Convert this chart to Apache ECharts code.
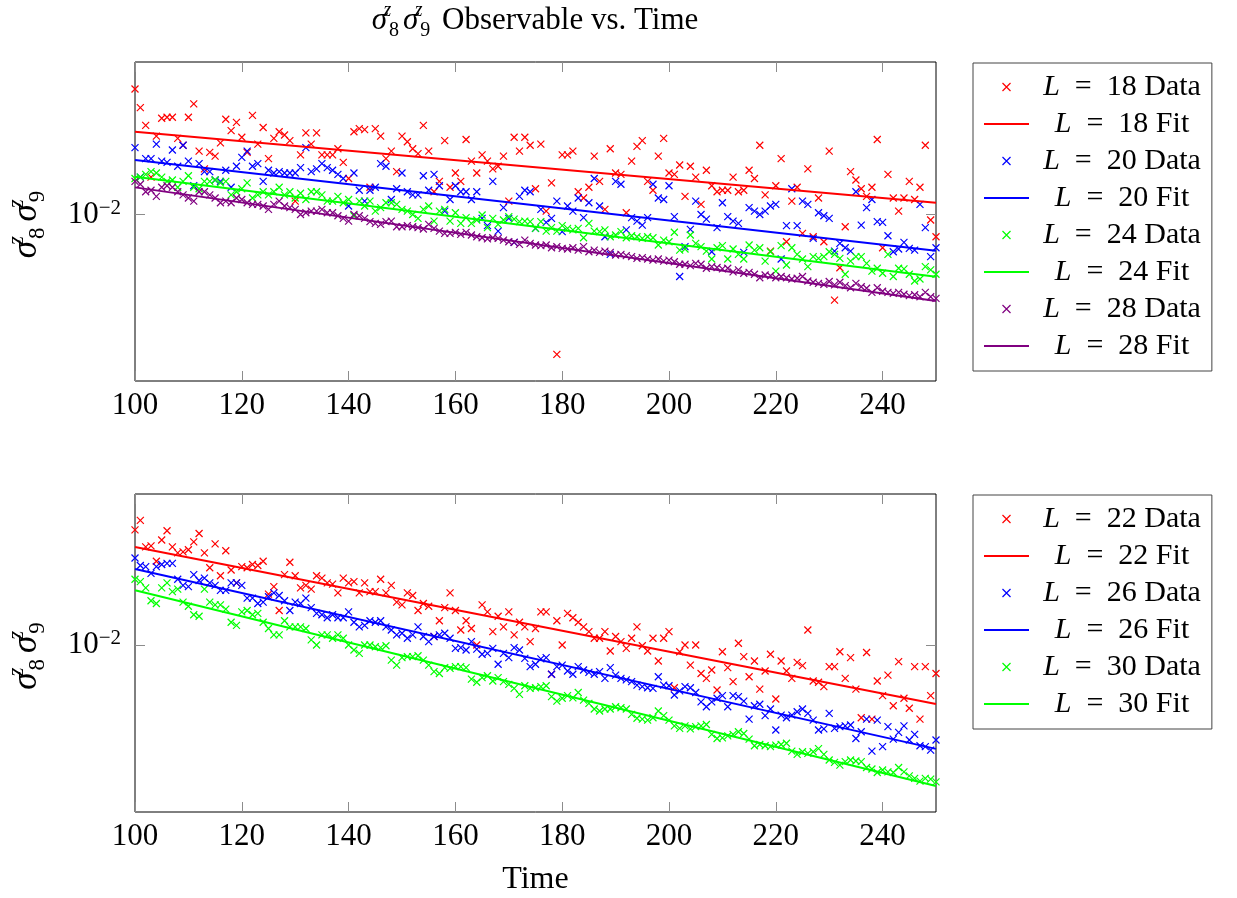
<!DOCTYPE html>
<html>
<head>
<meta charset="utf-8">
<script src="https://cdn.jsdelivr.net/npm/echarts@6/dist/echarts.min.js"></script>
<style>
html,body{margin:0;padding:0;background:#fff;}
#chart{width:1237px;height:898px;}
</style>
</head>
<body>
<div id="chart"></div>
<script>
// ---------------- data ----------------
const timeStart = 100;           // first time step
const timeCount = 151;           // time steps 100 .. 250
const xTicks = [100, 120, 140, 160, 180, 200, 220, 240];
const yTicks = [0.01];
const fitTimes = [100, 250];

// top panel
const l18Data = [
0.0206,0.0185,0.0167,0.0124,0.0157,0.0174,0.0175,0.0175,0.0155,0.0149,
0.0175,0.0189,0.0144,0.0130,0.0143,0.0140,0.0151,0.0173,0.0162,0.0170,
0.0156,0.0143,0.0177,0.0150,0.0165,0.0138,0.0155,0.0161,0.0158,0.0153,
0.0108,0.0141,0.0160,0.0150,0.0160,0.0141,0.0141,0.0141,0.0146,0.0135,
0.0123,0.0161,0.0164,0.0163,0.0117,0.0164,0.0157,0.0138,0.0144,0.0128,
0.0157,0.0152,0.0146,0.0142,0.0167,0.0144,0.0114,0.0121,0.0153,0.0117,
0.0127,0.0121,0.0154,0.0136,0.0127,0.0141,0.0136,0.0130,0.0132,0.0140,
0.0108,0.0156,0.0144,0.0156,0.0149,0.0116,0.0150,0.0102,0.0120,0.00447,
0.0141,0.0141,0.0144,0.0114,0.0110,0.0117,0.0140,0.0121,0.0103,0.0146,
0.0127,0.0126,0.0101,0.0136,0.0148,0.0153,0.0121,0.0115,0.0140,0.0155,
0.0127,0.0126,0.0133,0.0111,0.0132,0.0124,0.0106,0.0129,0.0118,0.0114,
0.0115,0.0115,0.0124,0.0114,0.0115,0.0129,0.0123,0.0149,0.0112,0.00810,
0.0118,0.0138,0.00855,0.0108,0.0117,0.00897,0.0130,0.00880,0.0110,0.00855,
0.0144,0.00611,0.00736,0.00932,0.0128,0.0122,0.0116,0.0111,0.0117,0.0154,
0.00826,0.0126,0.0110,0.0102,0.0110,0.0121,0.0109,0.0117,0.0149,0.00969,
0.00880];
const l18Fit = [0.01611, 0.01070];

const l20Data = [
0.0147,0.0124,0.0138,0.0138,0.0150,0.0136,0.0135,0.0145,0.0132,0.0149,
0.0136,0.0118,0.0134,0.0128,0.0128,0.0122,0.0121,0.0129,0.0117,0.0132,
0.0139,0.0144,0.0132,0.0134,0.0121,0.0129,0.0127,0.0128,0.0127,0.0127,
0.0127,0.0131,0.0147,0.0128,0.0130,0.0134,0.0131,0.0129,0.0126,0.0123,
0.0105,0.0127,0.0115,0.0108,0.0115,0.0117,0.0134,0.0132,0.0109,0.0116,
0.0127,0.0114,0.0112,0.0112,0.0125,0.0115,0.0126,0.0118,0.0102,0.0109,
0.0118,0.0114,0.0114,0.0109,0.0114,0.00978,0.00938,0.0121,0.00909,0.0104,
0.00978,0.00852,0.0111,0.0115,0.0114,0.00923,0.0103,0.00956,0.00978,0.0108,
0.00906,0.0105,0.0102,0.0110,0.00982,0.0107,0.0123,0.0105,0.00880,0.00795,
0.0121,0.0119,0.00915,0.00982,0.00963,0.00941,0.00982,0.0119,0.0110,0.0109,
0.0118,0.00988,0.00700,0.00831,0.00918,0.0108,0.0100,0.00974,0.00807,0.00927,
0.0107,0.00988,0.00963,0.00950,0.00804,0.0104,0.0102,0.0100,0.0102,0.0105,
0.0106,0.00774,0.00938,0.0116,0.00938,0.0108,0.0106,0.00872,0.0101,0.00993,
0.00978,0.00810,0.00847,0.00826,0.00810,0.0114,0.00941,0.0104,0.0109,0.00960,
0.00956,0.00885,0.00807,0.00820,0.00852,0.00823,0.00815,0.0106,0.00927,0.00785,
0.00826];
const l20Fit = [0.01368, 0.00812];

const l24Data = [
0.0123,0.0124,0.0126,0.0128,0.0127,0.0124,0.0121,0.0122,0.0117,0.0121,
0.0125,0.0117,0.0116,0.0121,0.0121,0.0122,0.0120,0.0121,0.0112,0.0114,
0.0116,0.0120,0.0110,0.0112,0.0114,0.0112,0.0114,0.0117,0.0112,0.0114,
0.0110,0.0113,0.0109,0.0114,0.0114,0.0112,0.0108,0.0108,0.0111,0.0107,
0.0109,0.00993,0.0108,0.0105,0.0108,0.0102,0.0104,0.0107,0.0107,0.0106,
0.0103,0.0102,0.0100,0.00978,0.0103,0.0105,0.00963,0.0102,0.0103,0.00963,
0.0101,0.00950,0.00982,0.00950,0.00969,0.00997,0.00927,0.00978,0.00945,0.00969,
0.00988,0.00974,0.00960,0.00963,0.00960,0.00923,0.00960,0.00909,0.00927,0.00909,
0.00938,0.00923,0.00915,0.00923,0.00875,0.00950,0.00909,0.00906,0.00915,0.00880,
0.00889,0.00906,0.00875,0.00885,0.00880,0.00872,0.00880,0.00875,0.00839,0.00863,
0.00855,0.00903,0.00815,0.00820,0.00889,0.00847,0.00831,0.00810,0.00774,0.00826,
0.00836,0.00774,0.00820,0.00795,0.00774,0.00839,0.00815,0.00826,0.00765,0.00807,
0.00722,0.00836,0.00748,0.00826,0.00795,0.00774,0.00741,0.00785,0.00777,0.00785,
0.00807,0.00795,0.00777,0.00709,0.00765,0.00785,0.00785,0.00755,0.00722,0.00734,
0.00713,0.00795,0.00700,0.00734,0.00731,0.00709,0.00682,0.00690,0.00741,0.00727,
0.00709];
const l24Fit = [0.01243, 0.00699];

const l28Data = [
0.0121,0.0119,0.0114,0.0115,0.0111,0.0117,0.0118,0.0117,0.0114,0.0112,
0.0110,0.0108,0.0114,0.0114,0.0112,0.0110,0.0107,0.0108,0.0107,0.0110,
0.0109,0.0107,0.0106,0.0106,0.0105,0.0103,0.0106,0.0108,0.0105,0.0104,
0.0103,0.0100,0.0101,0.0102,0.0102,0.0103,0.0101,0.0101,0.00993,0.00978,
0.00963,0.0100,0.00993,0.00978,0.00960,0.00950,0.00945,0.00960,0.00963,0.00932,
0.00932,0.00938,0.00932,0.00927,0.00920,0.00945,0.00923,0.00909,0.00897,0.00897,
0.00902,0.00892,0.00902,0.00889,0.00880,0.00875,0.00869,0.00875,0.00872,0.00863,
0.00855,0.00852,0.00842,0.00863,0.00847,0.00839,0.00836,0.00839,0.00826,0.00831,
0.00823,0.00820,0.00826,0.00815,0.00831,0.00807,0.00815,0.00804,0.00810,0.00804,
0.00792,0.00795,0.00789,0.00785,0.00777,0.00780,0.00774,0.00769,0.00774,0.00765,
0.00769,0.00762,0.00751,0.00751,0.00745,0.00755,0.00751,0.00734,0.00741,0.00737,
0.00731,0.00734,0.00719,0.00727,0.00713,0.00717,0.00709,0.00695,0.00706,0.00703,
0.00695,0.00700,0.00695,0.00690,0.00693,0.00700,0.00682,0.00677,0.00673,0.00669,
0.00680,0.00667,0.00677,0.00664,0.00656,0.00673,0.00660,0.00654,0.00639,0.00656,
0.00643,0.00639,0.00635,0.00639,0.00632,0.00627,0.00630,0.00623,0.00639,0.00623,
0.00617];
const l28Fit = [0.01169, 0.00608];

// bottom panel
const l22Data = [
0.0194,0.0205,0.0176,0.0177,0.0162,0.0183,0.0193,0.0176,0.0170,0.0171,
0.0173,0.0181,0.0190,0.0170,0.0156,0.0179,0.0149,0.0172,0.0154,0.0143,
0.0157,0.0156,0.0159,0.0158,0.0162,0.0134,0.0140,0.0122,0.0150,0.0161,
0.0149,0.0139,0.0141,0.0138,0.0149,0.0147,0.0143,0.0142,0.0135,0.0147,
0.0143,0.0144,0.0135,0.0143,0.0136,0.0136,0.0146,0.0135,0.0141,0.0128,
0.0126,0.0135,0.0133,0.0122,0.0127,0.0125,0.0105,0.0115,0.0124,0.0135,
0.0122,0.0109,0.0115,0.0110,0.0100,0.0126,0.0121,0.0108,0.0118,0.0111,
0.0121,0.0106,0.0114,0.0111,0.0102,0.0110,0.0121,0.0121,0.00845,0.0115,
0.0100,0.0120,0.0117,0.0114,0.0111,0.0108,0.0104,0.0104,0.0108,0.00966,
0.0105,0.0102,0.00981,0.0104,0.0111,0.00996,0.00966,0.0104,0.00912,0.0104,
0.0108,0.00782,0.00962,0.0100,0.00891,0.0100,0.00849,0.00825,0.00866,0.00772,
0.00962,0.00878,0.00810,0.0101,0.00935,0.00833,0.00912,0.00776,0.00861,0.00948,
0.00733,0.00912,0.00861,0.00825,0.00905,0.00888,0.0109,0.00813,0.00807,0.00787,
0.00883,0.00883,0.00962,0.00825,0.00930,0.00776,0.00658,0.00958,0.00653,0.00813,
0.00747,0.00841,0.00705,0.00909,0.00736,0.00695,0.00883,0.00653,0.00883,0.00747,
0.00849];
const l22Fit = [0.01758, 0.00712];

const l26Data = [
0.0165,0.0158,0.0157,0.0151,0.0157,0.0159,0.0160,0.0160,0.0146,0.0141,
0.0140,0.0150,0.0145,0.0147,0.0143,0.0141,0.0137,0.0137,0.0143,0.0143,
0.0141,0.0131,0.0131,0.0127,0.0128,0.0132,0.0135,0.0133,0.0129,0.0122,
0.0128,0.0127,0.0131,0.0124,0.0120,0.0119,0.0117,0.0119,0.0117,0.0117,
0.0121,0.0114,0.0111,0.0112,0.0115,0.0114,0.0115,0.0111,0.0109,0.0106,
0.0107,0.0104,0.0106,0.0111,0.0105,0.0102,0.0105,0.0106,0.0107,0.0104,
0.00981,0.00985,0.00972,0.0102,0.00977,0.00948,0.00953,0.00981,0.00895,0.00953,
0.00930,0.00985,0.00972,0.00926,0.00883,0.00895,0.00923,0.00930,0.00845,0.00883,
0.00891,0.00861,0.00845,0.00883,0.00866,0.00854,0.00845,0.00858,0.00825,0.00878,
0.00841,0.00825,0.00818,0.00810,0.00794,0.00787,0.00782,0.00779,0.00833,0.00794,
0.00791,0.00750,0.00768,0.00787,0.00782,0.00761,0.00721,0.00701,0.00721,0.00736,
0.00747,0.00701,0.00747,0.00743,0.00724,0.00653,0.00705,0.00711,0.00666,0.00692,
0.00613,0.00668,0.00658,0.00668,0.00681,0.00692,0.00675,0.00649,0.00613,0.00617,
0.00675,0.00619,0.00625,0.00628,0.00631,0.00584,0.00607,0.00653,0.00543,0.00649,
0.00557,0.00625,0.00582,0.00605,0.00628,0.00579,0.00598,0.00560,0.00557,0.00546,
0.00579];
const l26Fit = [0.01549, 0.00550];

const l30Data = [
0.0146,0.0144,0.0139,0.0129,0.0127,0.0139,0.0143,0.0136,0.0138,0.0128,
0.0125,0.0119,0.0118,0.0138,0.0128,0.0126,0.0126,0.0123,0.0114,0.0112,
0.0121,0.0122,0.0119,0.0120,0.0114,0.0110,0.0106,0.0106,0.0115,0.0111,
0.0111,0.0111,0.0110,0.0103,0.0100,0.0106,0.0106,0.0104,0.0106,0.0104,
0.0100,0.00972,0.00953,0.0100,0.0100,0.00990,0.00985,0.00996,0.00917,0.00891,
0.00930,0.00935,0.00935,0.00940,0.00917,0.00891,0.00858,0.00849,0.00878,0.00874,
0.00883,0.00883,0.00878,0.00822,0.00807,0.00829,0.00838,0.00813,0.00829,0.00810,
0.00797,0.00779,0.00753,0.00791,0.00779,0.00782,0.00787,0.00791,0.00743,0.00724,
0.00736,0.00747,0.00738,0.00761,0.00728,0.00715,0.00692,0.00684,0.00692,0.00692,
0.00701,0.00697,0.00692,0.00671,0.00656,0.00653,0.00649,0.00658,0.00684,0.00666,
0.00649,0.00628,0.00619,0.00628,0.00617,0.00625,0.00628,0.00633,0.00598,0.00584,
0.00586,0.00593,0.00598,0.00607,0.00601,0.00582,0.00560,0.00564,0.00560,0.00557,
0.00562,0.00564,0.00568,0.00543,0.00533,0.00541,0.00536,0.00541,0.00551,0.00533,
0.00516,0.00509,0.00501,0.00511,0.00516,0.00513,0.00511,0.00494,0.00490,0.00480,
0.00487,0.00482,0.00480,0.00494,0.00482,0.00471,0.00464,0.00457,0.00464,0.00462,
0.00455];
const l30Fit = [0.01370, 0.00444];

// axis limits (log axes)
const topYMin = 0.0038355, topYMax = 0.024057;
const botYMin = 0.0038246, botYMax = 0.023851;

// ---------------- chart ----------------
const times = Array.from({length: timeCount}, (_, i) => timeStart + i);
const FONT = 'Liberation Serif';
const CROSS = 'path://M0,0L10,10M10,0L0,10';
const RED = '#ff0000', BLUE = '#0000ff', GREEN = '#00ff00', PURPLE = '#800080';

function scatterSeries(name, vals, color, axisIdx) {
  return {
    type: 'scatter', name, xAxisIndex: axisIdx, yAxisIndex: axisIdx,
    data: vals.map((v, i) => [times[i], v]),
    symbol: CROSS, symbolSize: 7,
    itemStyle: {color: color, borderColor: color, borderWidth: 1.2, opacity: 1},
    emphasis: {disabled: true}, silent: true
  };
}
function fitSeries(name, vals, color, axisIdx) {
  return {
    type: 'line', name, xAxisIndex: axisIdx, yAxisIndex: axisIdx,
    data: fitTimes.map((t, i) => [t, vals[i]]),
    symbol: 'none', showSymbol: false,
    lineStyle: {color: color, width: 2},
    itemStyle: {color: color},
    emphasis: {disabled: true}, silent: true
  };
}

const series = [
  scatterSeries('L = 18 Data', l18Data, RED, 0), fitSeries('L = 18 Fit', l18Fit, RED, 0),
  scatterSeries('L = 20 Data', l20Data, BLUE, 0), fitSeries('L = 20 Fit', l20Fit, BLUE, 0),
  scatterSeries('L = 24 Data', l24Data, GREEN, 0), fitSeries('L = 24 Fit', l24Fit, GREEN, 0),
  scatterSeries('L = 28 Data', l28Data, PURPLE, 0), fitSeries('L = 28 Fit', l28Fit, PURPLE, 0),
  scatterSeries('L = 22 Data', l22Data, RED, 2), fitSeries('L = 22 Fit', l22Fit, RED, 2),
  scatterSeries('L = 26 Data', l26Data, BLUE, 2), fitSeries('L = 26 Fit', l26Fit, BLUE, 2),
  scatterSeries('L = 30 Data', l30Data, GREEN, 2), fitSeries('L = 30 Fit', l30Fit, GREEN, 2)
];

const TICK_COLOR = '#8c8c8c';
const sigmaRich = {
  s: {fontFamily: FONT, fontStyle: 'italic', fontSize: 35, lineHeight: 44, color: '#000'},
  p: {fontFamily: FONT, fontStyle: 'italic', fontSize: 23, lineHeight: 22, verticalAlign: 'top', width: 1, color: '#000'},
  b: {fontFamily: FONT, fontSize: 23, lineHeight: 22, verticalAlign: 'bottom', color: '#000', padding: [0, 6, 0, 1]}
};
const sigmaName = '{s|σ}{p|z}{b|8}{s|σ}{p|z}{b|9}';

function xAxisFor(grid, pos, showLabels, name) {
  return {
    type: 'value', gridIndex: grid, position: pos, min: 100, max: 250,
    axisLine: {show: false},
    axisTick: {show: true, inside: true, length: 10, customValues: xTicks,
      lineStyle: {color: TICK_COLOR, width: 1}},
    axisLabel: {show: showLabels, customValues: xTicks, fontFamily: FONT, fontSize: 31,
      color: '#000', margin: 9},
    splitLine: {show: false},
    name: name || '', nameLocation: 'middle', nameGap: 52,
    nameTextStyle: {fontFamily: FONT, fontSize: 32, color: '#000'}
  };
}
function yAxisFor(grid, pos, ymin, ymax, showLabels) {
  return {
    type: 'log', logBase: 10, gridIndex: grid, position: pos, min: ymin, max: ymax,
    axisLine: {show: false},
    axisTick: {show: true, inside: true, length: 10, customValues: yTicks,
      lineStyle: {color: TICK_COLOR, width: 1}},
    axisLabel: {show: showLabels, customValues: yTicks, margin: 14,
      formatter: v => '{m|10}{e|−' + Math.abs(Math.round(Math.log10(v))) + '}',
      rich: {
        m: {fontFamily: FONT, fontSize: 31, lineHeight: 34, color: '#000'},
        e: {fontFamily: FONT, fontSize: 21, lineHeight: 21, verticalAlign: 'top', color: '#000'}
      }},
    splitLine: {show: false},
    name: showLabels ? sigmaName : '', nameLocation: 'middle', nameRotate: 90, nameGap: 86,
    nameTextStyle: {rich: sigmaRich}
  };
}

const legendRich = {
  i: {fontFamily: FONT, fontStyle: 'italic', fontSize: 30, color: '#000', align: 'center'},
  c: {fontFamily: FONT, fontSize: 30, color: '#000', align: 'center'}
};
function legendFor(names, top) {
  return {
    orient: 'vertical', left: 973, top: top,
    padding: [9, 11, 10, 10], itemGap: 7, itemWidth: 45, itemHeight: 8,
    borderColor: '#444', borderWidth: 1, borderRadius: 0, backgroundColor: '#fff',
    selectedMode: false,
    data: names.map(n => /Fit$/.test(n) ? {name: n, itemStyle: {opacity: 0}} : {name: n}),
    itemStyle: {borderWidth: 1.2},
    textStyle: {fontFamily: FONT, fontSize: 30, color: '#000', width: 176, rich: legendRich},
    formatter: n => '{i|L}{c|\u2002=\u2002' + n.replace(/^L = /, '') + '}'
  };
}

const option = {
  animation: false,
  backgroundColor: '#fff',
  title: {
    text: '{s|σ}{p|z}{b|8}{s|σ}{p|z}{b|9}{t| Observable vs. Time}',
    left: 535, top: 1, padding: 0, textAlign: 'center',
    textStyle: {fontWeight: 'normal', rich: {
      s: {fontFamily: FONT, fontStyle: 'italic', fontWeight: 'normal', fontSize: 31, lineHeight: 40, color: '#000'},
      p: {fontFamily: FONT, fontStyle: 'italic', fontWeight: 'normal', fontSize: 20, lineHeight: 20, verticalAlign: 'top', width: 1, color: '#000'},
      b: {fontFamily: FONT, fontWeight: 'normal', fontSize: 20, lineHeight: 20, verticalAlign: 'bottom', color: '#000', padding: [0, 4, 0, 1]},
      t: {fontFamily: FONT, fontWeight: 'normal', fontSize: 31, lineHeight: 40, color: '#000'}
    }}
  },
  legend: [
    legendFor(['L = 18 Data', 'L = 18 Fit', 'L = 20 Data', 'L = 20 Fit', 'L = 24 Data', 'L = 24 Fit', 'L = 28 Data', 'L = 28 Fit'], 63),
    legendFor(['L = 22 Data', 'L = 22 Fit', 'L = 26 Data', 'L = 26 Fit', 'L = 30 Data', 'L = 30 Fit'], 495)
  ],
  grid: [
    {left: 135, top: 62, width: 801, height: 319, show: true, borderColor: '#000', borderWidth: 1,
     backgroundColor: 'transparent', containLabel: false, outerBoundsMode: 'none'},
    {left: 135, top: 494, width: 801, height: 318, show: true, borderColor: '#000', borderWidth: 1,
     backgroundColor: 'transparent', containLabel: false, outerBoundsMode: 'none'}
  ],
  xAxis: [
    xAxisFor(0, 'bottom', true),
    xAxisFor(0, 'top', false),
    xAxisFor(1, 'bottom', true, 'Time'),
    xAxisFor(1, 'top', false)
  ],
  yAxis: [
    yAxisFor(0, 'left', topYMin, topYMax, true),
    yAxisFor(0, 'right', topYMin, topYMax, false),
    yAxisFor(1, 'left', botYMin, botYMax, true),
    yAxisFor(1, 'right', botYMin, botYMax, false)
  ],
  series: series
};

const chart = echarts.init(document.getElementById('chart'), null, {renderer: 'canvas'});
chart.setOption(option);
</script>
</body>
</html>
